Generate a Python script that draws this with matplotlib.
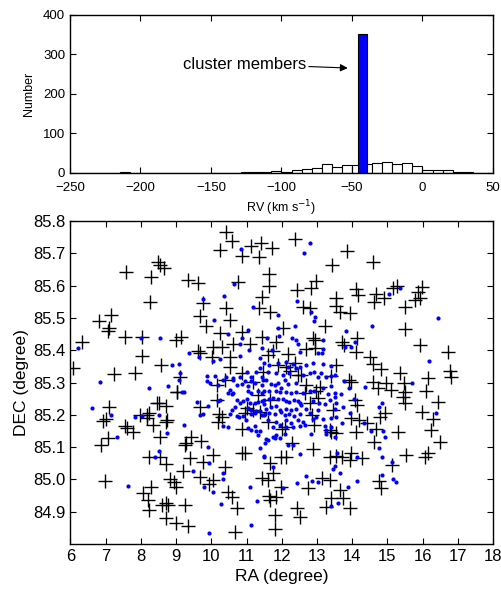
import numpy as np
import matplotlib
matplotlib.use("Agg")
import matplotlib.pyplot as plt

plt.rcParams['font.family'] = ['Liberation Sans', 'DejaVu Sans']

# radial velocity histogram: 42 bins from -250 to 50 km/s
rv_range = (-250, 50)
rv_counts = [0, 0, 0, 0, 0, 1, 0, 0, 0, 0,
             0, 0, 0, 0, 0, 0, 0, 1, 2, 2,
             5, 3, 6, 9, 11, 23, 15, 20, 20, 22,
             25, 27, 23, 24, 17, 6, 6, 6, 3, 1,
             0, 0]
# cluster members peak
member_rv = -42.5
member_rv_width = 6.4
member_count = 352

# field stars (crosses), RA / DEC in degree
field_stars = [
    (6.08, 85.344), (6.32, 85.426), (6.81, 85.49), (7.15, 85.51), (7.09, 85.47), (7.07, 85.46),
    (7.23, 85.326), (7.59, 85.643), (7.55, 85.44), (7.83, 85.33), (8.02, 85.44), (8.02, 85.382),
    (8.26, 85.548), (8.29, 85.626), (8.48, 85.674), (8.54, 85.664), (8.66, 85.654), (8.57, 85.355),
    (9.01, 85.432), (9.14, 85.441), (9.11, 85.316), (9.03, 85.271), (9.33, 85.617), (9.63, 85.609),
    (9.77, 85.545), (9.68, 85.506), (9.85, 85.476), (9.61, 85.398), (9.68, 85.392), (10.01, 85.380),
    (10.05, 85.411), (10.29, 85.411), (10.24, 85.452), (10.53, 85.494), (10.43, 85.532), (10.53, 85.380),
    (10.53, 85.349), (10.62, 85.419), (10.15, 85.292), (10.39, 85.308), (10.86, 85.457), (11.09, 85.419),
    (10.86, 85.328), (10.24, 85.710), (10.41, 85.765), (10.58, 85.739), (10.86, 85.692), (10.75, 85.612),
    (11.12, 85.723), (11.35, 85.688), (11.40, 85.733), (11.73, 85.715), (11.63, 85.635), (11.63, 85.599),
    (11.44, 85.566), (11.34, 85.532), (11.66, 85.517), (11.43, 85.440), (11.62, 85.385), (11.76, 85.398),
    (11.85, 85.426), (11.47, 85.333), (11.90, 85.354), (11.33, 85.261), (11.17, 85.303),
    (12.39, 85.743), (13.86, 85.708), (13.43, 85.664), (14.58, 85.672), (12.97, 85.615), (12.82, 85.592),
    (12.42, 85.586), (12.59, 85.535), (12.80, 85.532), (13.53, 85.561), (13.53, 85.537), (13.65, 85.519),
    (13.95, 85.514), (14.12, 85.589), (14.17, 85.571), (14.67, 85.574), (14.62, 85.550), (14.91, 85.563),
    (15.16, 85.592), (15.26, 85.599), (15.86, 85.581), (15.99, 85.595), (15.92, 85.561), (15.78, 85.555),
    (15.49, 85.535), (12.04, 85.468), (13.24, 85.475), (15.49, 85.465), (12.89, 85.437), (12.94, 85.432),
    (13.70, 85.426), (14.14, 85.437), (14.10, 85.395), (13.76, 85.416), (12.18, 85.388), (12.68, 85.404),
    (12.94, 85.406), (15.94, 85.416), (16.72, 85.395), (14.50, 85.380), (14.59, 85.357), (14.81, 85.341),
    (16.77, 85.336), (16.82, 85.316), (16.16, 85.313), (16.11, 85.275), (15.35, 85.331), (15.47, 85.299),
    (15.49, 85.271), (14.59, 85.303), (14.74, 85.284), (14.97, 85.299), (15.10, 85.277), (13.98, 85.303),
    (13.90, 85.308), (13.55, 85.354), (13.39, 85.320), (13.08, 85.287), (12.97, 85.275), (12.56, 85.323),
    (12.47, 85.323), (12.68, 85.292), (12.23, 85.337), (12.37, 85.359), (12.12, 85.349),
    (9.03, 85.270), (8.52, 85.238), (8.71, 85.227), (8.46, 85.236), (7.10, 85.225), (6.93, 85.182),
    (7.01, 85.187), (7.97, 85.199), (8.18, 85.199), (8.24, 85.207), (8.18, 85.189), (7.55, 85.165),
    (7.60, 85.158), (7.78, 85.148), (8.33, 85.168), (8.73, 85.184), (8.71, 85.177), (8.54, 85.132),
    (7.07, 85.127), (6.86, 85.107), (9.68, 85.223), (10.15, 85.246), (10.22, 85.202), (10.29, 85.194),
    (10.20, 85.177), (9.28, 85.114), (9.25, 85.107), (9.41, 85.132), (9.72, 85.120), (8.23, 85.070),
    (8.54, 85.070), (8.71, 85.048), (9.39, 85.065), (9.75, 85.055), (10.05, 85.076), (10.39, 85.038),
    (9.20, 85.026), (8.82, 85.000), (8.94, 84.993), (8.99, 84.977), (9.68, 85.006), (10.05, 84.998),
    (9.93, 84.986), (6.98, 84.996), (8.30, 84.975), (8.07, 84.959), (8.19, 84.936), (8.24, 84.905),
    (8.59, 84.921), (8.71, 84.926), (8.78, 84.921), (8.71, 84.882), (9.01, 84.866), (9.34, 84.856),
    (9.25, 84.921), (10.48, 84.962), (10.58, 84.946), (10.72, 84.913), (10.67, 84.838), (10.86, 85.082),
    (10.95, 85.081), (10.86, 85.155), (10.95, 85.205), (11.00, 85.220), (11.19, 85.215), (11.38, 85.210),
    (11.61, 85.179), (11.68, 85.246), (11.68, 85.050), (11.74, 85.019), (11.43, 85.003), (11.62, 84.998),
    (11.64, 84.949), (11.68, 84.936), (11.83, 84.946), (11.80, 84.890), (11.80, 84.846),
    (12.66, 85.267), (12.80, 85.236), (13.03, 85.251), (12.85, 85.199), (12.92, 85.168), (13.41, 85.148),
    (13.46, 85.215), (14.08, 85.246), (14.14, 85.230), (13.98, 85.189), (14.20, 85.184), (14.41, 85.174),
    (14.12, 85.148), (13.55, 85.143), (13.37, 85.153), (14.69, 85.155), (14.61, 85.117), (14.78, 85.194),
    (14.93, 85.207), (15.31, 85.148), (15.45, 85.256), (15.49, 85.236), (15.97, 85.210), (16.30, 85.186),
    (16.44, 85.241), (16.25, 85.153), (16.49, 85.117), (16.16, 85.081), (16.06, 85.070), (15.52, 85.076),
    (15.12, 85.045), (14.27, 85.065), (13.98, 85.081), (13.93, 85.060), (13.70, 85.070), (13.55, 85.072),
    (13.37, 85.070), (12.89, 85.093), (12.28, 85.114), (12.12, 85.070), (11.99, 85.070), (11.99, 84.977),
    (12.75, 84.973), (13.13, 85.003), (13.37, 84.998), (13.65, 84.967), (13.74, 84.941), (13.39, 84.941),
    (13.25, 84.915), (13.93, 84.910), (14.77, 84.996), (14.81, 84.973), (12.42, 84.910), (12.53, 84.884),
    (12.09, 85.163), (12.02, 85.155),
]

# cluster members (blue dots)
members = [
    (6.22, 85.406), (6.84, 85.303), (7.99, 85.437), (8.54, 85.437), (8.23, 85.284), (8.78, 85.289),
    (8.89, 85.354), (9.09, 85.357), (9.11, 85.328), (9.08, 85.308), (9.18, 85.270), (9.37, 85.392),
    (9.66, 85.380), (9.75, 85.559), (10.07, 85.494), (10.04, 85.366), (10.37, 85.569), (10.46, 85.450),
    (10.64, 85.604), (10.83, 85.713), (10.81, 85.418), (10.86, 85.437), (10.81, 85.383), (11.03, 85.463),
    (11.17, 85.534), (11.43, 85.408), (11.57, 85.437), (11.72, 85.401), (11.90, 85.468), (11.90, 85.509),
    (9.87, 85.320), (10.10, 85.320), (10.43, 85.316), (10.61, 85.313), (10.81, 85.318), (11.00, 85.334),
    (11.14, 85.316), (11.28, 85.334), (11.38, 85.344), (11.43, 85.316), (10.24, 85.372), (11.08, 85.401),
    (11.38, 85.375),
    (12.80, 85.733), (12.63, 85.702), (12.44, 85.552), (12.94, 85.502), (12.91, 85.491), (12.83, 85.517),
    (12.37, 85.476), (13.82, 85.460), (14.55, 85.476), (15.35, 85.592), (15.05, 85.573), (16.44, 85.501),
    (11.93, 85.444), (12.28, 85.437), (12.40, 85.432), (12.47, 85.419), (13.18, 85.432), (13.18, 85.404),
    (13.03, 85.390), (13.13, 85.390), (12.53, 85.395), (13.79, 85.411), (14.08, 85.426), (13.96, 85.409),
    (16.19, 85.367), (15.71, 85.299),
    (11.50, 85.360), (11.65, 85.354), (11.89, 85.360), (12.13, 85.365), (12.17, 85.349), (12.31, 85.358),
    (12.41, 85.344), (12.51, 85.349), (12.69, 85.354), (12.88, 85.360), (13.17, 85.358), (13.40, 85.351),
    (11.84, 85.329), (12.03, 85.323), (12.22, 85.331), (11.61, 85.334), (12.60, 85.323), (12.79, 85.331),
    (12.93, 85.334), (13.02, 85.318), (13.12, 85.329), (13.26, 85.316), (13.40, 85.320), (13.50, 85.323),
    (6.60, 85.220), (7.14, 85.199), (7.31, 85.130), (7.64, 84.980), (7.83, 85.192), (8.02, 85.196),
    (8.51, 85.199), (8.75, 85.145), (8.52, 85.089), (8.40, 85.068), (9.22, 85.270), (9.22, 85.168),
    (9.93, 85.052), (9.49, 85.027), (9.80, 84.975), (10.05, 84.962), (10.34, 85.021), (10.34, 85.000),
    (10.27, 84.924), (9.94, 84.833), (11.10, 84.977), (11.29, 84.934), (11.12, 84.859), (11.52, 85.112),
    (11.76, 85.132), (11.76, 85.039),
    (9.87, 85.306), (9.96, 85.299), (10.20, 85.292), (10.34, 85.309), (10.62, 85.309), (10.72, 85.293),
    (10.86, 85.296), (10.95, 85.304), (11.14, 85.306), (11.23, 85.299), (11.04, 85.288), (11.43, 85.293),
    (11.47, 85.309), (10.53, 85.278), (10.48, 85.268), (10.58, 85.263), (10.62, 85.268), (11.04, 85.275),
    (11.14, 85.268), (11.33, 85.273), (11.45, 85.268), (10.20, 85.244), (10.24, 85.247), (10.72, 85.247),
    (10.91, 85.244), (11.00, 85.250), (11.09, 85.237), (11.23, 85.237), (11.33, 85.240), (11.43, 85.242),
    (11.49, 85.234), (11.04, 85.221), (11.14, 85.216), (11.28, 85.211), (10.81, 85.237), (10.67, 85.223),
    (10.60, 85.216), (9.91, 85.227), (9.60, 85.240), (9.68, 85.199), (9.75, 85.203), (10.53, 85.201),
    (10.72, 85.196), (10.79, 85.193), (10.91, 85.196), (10.98, 85.185), (11.14, 85.201), (11.23, 85.206),
    (11.38, 85.211), (11.43, 85.199), (11.52, 85.201), (10.34, 85.165), (10.48, 85.162), (11.04, 85.160),
    (11.23, 85.165), (11.28, 85.151), (11.38, 85.149), (11.33, 85.139), (11.14, 85.154), (9.91, 85.100),
    (11.38, 85.097), (11.50, 85.072),
    (11.56, 85.309), (11.70, 85.296), (11.80, 85.293), (11.89, 85.299), (11.98, 85.283), (12.08, 85.309),
    (12.17, 85.296), (12.41, 85.299), (11.51, 85.273), (11.65, 85.273), (11.84, 85.275), (11.94, 85.271),
    (12.12, 85.271), (12.27, 85.268), (12.41, 85.271), (12.60, 85.268), (12.79, 85.275), (12.93, 85.273),
    (13.17, 85.283), (13.31, 85.265), (13.50, 85.268), (13.40, 85.288), (11.51, 85.247), (11.65, 85.250),
    (11.75, 85.253), (11.89, 85.250), (12.03, 85.250), (12.13, 85.242), (12.22, 85.240), (12.36, 85.247),
    (12.46, 85.244), (12.51, 85.237), (12.88, 85.242), (13.07, 85.237), (13.22, 85.232), (13.36, 85.247),
    (13.50, 85.254), (13.54, 85.237), (11.56, 85.219), (11.70, 85.224), (11.84, 85.226), (11.94, 85.214),
    (12.13, 85.219), (12.27, 85.216), (12.41, 85.219), (12.55, 85.229), (12.69, 85.219), (13.02, 85.214),
    (13.50, 85.219), (11.51, 85.198), (11.65, 85.205), (11.80, 85.203), (11.98, 85.208), (12.08, 85.198),
    (12.22, 85.203), (12.36, 85.195), (12.51, 85.201), (12.79, 85.205), (12.98, 85.193), (13.17, 85.187),
    (13.40, 85.191), (13.54, 85.193), (11.61, 85.183), (11.84, 85.178), (12.13, 85.183), (12.27, 85.175),
    (12.46, 85.185), (12.60, 85.178), (12.88, 85.188), (13.22, 85.165), (11.75, 85.163), (11.94, 85.168),
    (12.13, 85.163), (12.31, 85.163), (12.51, 85.165), (12.65, 85.168), (13.26, 85.152), (13.40, 85.163),
    (11.84, 85.137), (11.80, 85.127), (11.94, 85.127), (12.08, 85.142), (12.83, 85.142), (13.26, 85.142),
    (13.50, 85.132), (12.17, 85.106), (12.31, 85.106), (11.56, 85.126), (11.61, 85.121), (12.51, 85.080),
    (11.51, 85.069), (13.50, 85.041),
    (13.77, 85.304), (13.91, 85.283), (13.68, 85.263), (13.73, 85.223), (13.71, 85.175), (13.93, 85.206),
    (14.05, 85.250), (14.36, 85.285), (14.84, 85.237), (14.76, 85.223), (14.34, 85.175), (14.53, 85.149),
    (14.88, 85.149), (14.94, 85.130), (14.75, 85.097), (14.84, 85.068), (15.12, 85.055), (13.58, 85.082),
    (14.15, 85.068),
    (13.65, 85.021), (13.46, 85.032), (14.86, 85.014), (15.15, 85.001), (15.24, 84.993), (14.14, 84.996),
    (13.88, 84.977), (13.60, 84.928), (13.41, 84.919), (13.03, 84.993), (12.85, 84.995), (12.68, 85.011),
    (12.42, 84.988), (12.04, 84.973), (16.37, 85.207),
]

field_ra, field_dec = np.array(field_stars).T
mem_ra, mem_dec = np.array(members).T

fig = plt.figure(figsize=(5.01, 5.91), dpi=100)

# --- top panel: RV histogram ---
ax1 = fig.add_axes([0.1397, 0.7078, 0.8443, 0.2673])
edges = np.linspace(rv_range[0], rv_range[1], len(rv_counts) + 1)
ax1.bar(edges[:-1], rv_counts, width=np.diff(edges), align='edge',
        color='white', edgecolor='black', linewidth=0.8)
ax1.bar(member_rv, member_count, width=member_rv_width,
        color='#0000ff', edgecolor='black', linewidth=0.8)
ax1.set_xlim(rv_range)
ax1.set_ylim(0, 400)
ax1.set_xticks(np.arange(-250, 51, 50))
ax1.set_yticks(np.arange(0, 401, 100))
ax1.set_xticklabels(['\u2212250', '\u2212200', '\u2212150', '\u2212100', '\u221250', '0', '50'])
ax1.set_xlabel('RV (km s$^{-1}$)', fontsize=9, labelpad=3)
ax1.set_ylabel('Number', fontsize=9, labelpad=6)
ax1.annotate('cluster members', xy=(-53, 265), xytext=(-170, 275),
             ha='left', va='center', fontsize=12,
             arrowprops=dict(arrowstyle='-|>', color='black', lw=0.8,
                             shrinkA=0, shrinkB=0, mutation_scale=11))

# --- bottom panel: sky positions ---
ax2 = fig.add_axes([0.1407, 0.0795, 0.8433, 0.5465])
ax2.plot(field_ra, field_dec, '+', color='black', markersize=9.5, markeredgewidth=1.0)
ax2.plot(mem_ra, mem_dec, 'o', color='#0000ff', markersize=3.0, markeredgewidth=0)
ax2.set_xlim(6, 18)
ax2.set_ylim(84.8, 85.8)
ax2.set_xticks(np.arange(6, 19, 1))
ax2.set_yticks(np.round(np.arange(84.9, 85.81, 0.1), 1))
ax2.set_yticklabels(['%.1f' % v for v in np.arange(84.9, 85.81, 0.1)])
ax2.set_xlabel('RA (degree)', fontsize=12.5, labelpad=4)
ax2.set_ylabel('DEC (degree)', fontsize=12.5, labelpad=3)

for ax, fs in ((ax1, 9.5), (ax2, 12)):
    ax.tick_params(direction='in', top=True, right=True, length=4.5, width=0.8,
                   labelsize=fs)
    for sp in ax.spines.values():
        sp.set_linewidth(1.0)
ax1.tick_params(axis='x', pad=7)

fig.savefig('out.png', dpi=100)
